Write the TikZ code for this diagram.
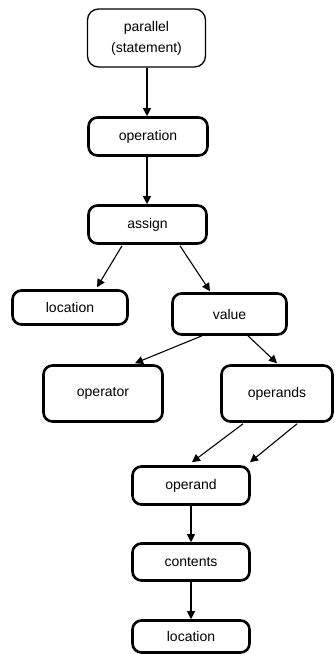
\documentclass[tikz,border=0pt]{standalone}
\usepackage{fontspec}
\setmainfont{Liberation Sans}
\usetikzlibrary{arrows.meta,calc}
\begin{document}
\begin{tikzpicture}[x=1pt,y=-1pt,
  box/.style={draw,line width=2.6pt,rounded corners=9pt,inner sep=0pt,
    font=\fontsize{14}{21}\selectfont,align=center},
  thinbox/.style={box,line width=1.3pt,rounded corners=11pt},
  arr/.style={line width=1.1pt,-{Triangle[length=8pt,width=8pt]}}]
\useasboundingbox (0,0) rectangle (335,654);
\node[thinbox,minimum width=118pt,minimum height=58pt] (par) at (146.5,38) {parallel\\(statement)};
\node[box,minimum width=119pt,minimum height=38pt] (op) at (148,136.5) {operation};
\node[box,minimum width=118pt,minimum height=38pt] (asg) at (147.5,224.5) {assign};
\node[box,minimum width=115pt,minimum height=34pt] (loca) at (70,307.5) {location};
\node[box,minimum width=114pt,minimum height=41pt] (val) at (229.5,314) {value};
\node[box,minimum width=119pt,minimum height=56pt] (opr) at (103,393.5) {operator};
\node[box,minimum width=111pt,minimum height=56pt] (ops) at (277,393.5) {operands};
\node[box,minimum width=117pt,minimum height=38pt] (opd) at (191,485.5) {operand};
\node[box,minimum width=117pt,minimum height=37pt] (cont) at (191,562) {contents};
\node[box,minimum width=117pt,minimum height=32pt] (locb) at (191,636.5) {location};
\draw[arr] ($(par.south)+(0.5,0)$) -- ($(op.north)+(-1,0)$);
\draw[arr] ($(op.south)+(-1,0)$) -- ($(asg.north)+(-0.5,0)$);
\draw[arr] ($(asg.south)+(-25.5,1)$) -- ($(loca.north)+(27,-2)$);
\draw[arr] ($(asg.south)+(32.5,1)$) -- ($(val.north)+(-19.5,-1)$);
\draw[arr] ($(val.south)+(-27.5,0)$) -- ($(opr.north)+(32,-1)$);
\draw[arr] ($(val.south)+(18.5,0)$) -- ($(ops.north)+(0,-1)$);
\draw[arr] ($(ops.south)+(-34,1)$) -- ($(opd.north)+(1,-3)$);
\draw[arr] ($(ops.south)+(20,1)$) -- ($(opd.north)+(59,-3)$);
\draw[arr] (opd.south) -- (cont.north);
\draw[arr] (cont.south) -- (locb.north);
\end{tikzpicture}
\end{document}
